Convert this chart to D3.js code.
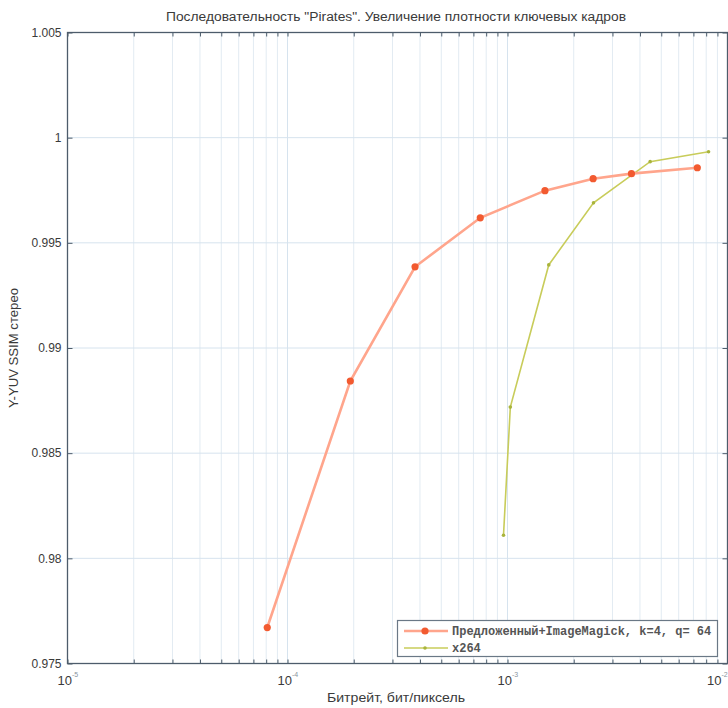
<!DOCTYPE html>
<html><head><meta charset="utf-8">
<script src="https://cdn.jsdelivr.net/npm/d3@7"></script>
<style>body{margin:0;background:#fff}svg{display:block}</style>
</head><body>
<script>
const titleText = 'Последовательность "Pirates". Увеличение плотности ключевых кадров';
const xLabel = 'Битрейт, бит/пиксель';
const yLabel = 'Y-YUV SSIM стерео';
const seriesNames = ['Предложенный+ImageMagick, k=4, q= 64', 'x264'];
const proposedX = [8.09e-5, 1.93e-4, 3.80e-4, 7.52e-4, 1.48e-3, 2.45e-3, 3.66e-3, 7.29e-3];
const proposedY = [0.97671, 0.98843, 0.99386, 0.99619, 0.99748, 0.99805, 0.99829, 0.99857];
const x264X = [9.59e-4, 1.03e-3, 1.54e-3, 2.46e-3, 4.45e-3, 8.20e-3];
const x264Y = [0.98110, 0.98719, 0.99395, 0.99690, 0.99886, 0.99933];
const yTicks = [0.975, 0.98, 0.985, 0.99, 0.995, 1, 1.005];
const yTickLabels = ['0.975', '0.98', '0.985', '0.99', '0.995', '1', '1.005'];
const xDecades = [-5, -4, -3, -2];

(function () {
const W = 728, H = 708;
const L = 67.5, R = 727.5, T = 32.5, B = 663.5;
const svg = d3.select('body').append('svg').attr('width', W).attr('height', H);
const x = d3.scaleLog().domain([1e-5, 1e-2]).range([L, R]);
const y = d3.scaleLinear().domain([0.975, 1.005]).range([B, T]);

const minor = [];
for (let e = -5; e < -2; e++) for (let m = 2; m <= 9; m++) minor.push(m * Math.pow(10, e));
const major = xDecades.map(e => Math.pow(10, e));

const g = svg.append('g');
g.selectAll('.gminor').data(minor).join('line')
  .attr('x1', d => x(d)).attr('x2', d => x(d)).attr('y1', T).attr('y2', B)
  .attr('stroke', '#e2ebf2').attr('stroke-width', 1);
g.selectAll('.gmajor').data(major).join('line')
  .attr('x1', d => x(d)).attr('x2', d => x(d)).attr('y1', T).attr('y2', B)
  .attr('stroke', '#d6e3ee').attr('stroke-width', 1);
g.selectAll('.gy').data(yTicks).join('line')
  .attr('x1', L).attr('x2', R).attr('y1', d => y(d)).attr('y2', d => y(d))
  .attr('stroke', '#d6e3ee').attr('stroke-width', 1);

const axCol = '#4d5c6b';
const axBottom = svg.append('g').attr('transform', `translate(0,${B})`)
  .call(d3.axisTop(x).tickValues(major.concat(minor)).tickSize(4).tickFormat(''));
const axTop = svg.append('g').attr('transform', `translate(0,${T})`)
  .call(d3.axisBottom(x).tickValues(major.concat(minor)).tickSize(4).tickFormat(''));
const axLeft = svg.append('g').attr('transform', `translate(${L},0)`)
  .call(d3.axisRight(y).tickValues(yTicks).tickSize(5).tickFormat(''));
const axRight = svg.append('g').attr('transform', `translate(${R},0)`)
  .call(d3.axisLeft(y).tickValues(yTicks).tickSize(5).tickFormat(''));
[axBottom, axTop, axLeft, axRight].forEach(a => {
  a.select('.domain').remove();
  a.selectAll('line').attr('stroke', axCol).attr('stroke-width', 1);
});
svg.append('rect').attr('x', L).attr('y', T).attr('width', R - L).attr('height', B - T)
  .attr('fill', 'none').attr('stroke', axCol).attr('stroke-width', 1.3);

const font = 'Liberation Sans, Arial, sans-serif';
svg.selectAll('.yl').data(yTicks).join('text')
  .attr('x', L - 6).attr('y', d => y(d)).attr('dy', '0.35em')
  .attr('text-anchor', 'end').attr('font-family', font).attr('font-size', 12)
  .attr('fill', '#3a3a3a').text((d, i) => yTickLabels[i]);
const xl = svg.selectAll('.xl').data(xDecades).join('text')
  .attr('x', d => Math.min(x(Math.pow(10, d)) - 10, W - 21)).attr('y', 685)
  .attr('font-family', font).attr('font-size', 13).attr('fill', '#3a3a3a');
xl.append('tspan').text('10');
xl.append('tspan').attr('dy', -8).attr('font-size', 7).attr('fill', '#8a95a0').text(d => String(d));

svg.append('text').attr('x', 396).attr('y', 21).attr('text-anchor', 'middle')
  .attr('font-family', font).attr('font-size', 12.5).attr('fill', '#3a3a3a')
  .attr('textLength', 460).attr('lengthAdjust', 'spacingAndGlyphs').text(titleText);
svg.append('text').attr('x', 396).attr('y', 702).attr('text-anchor', 'middle')
  .attr('font-family', font).attr('font-size', 12.5).attr('fill', '#3a3a3a')
  .attr('textLength', 138).attr('lengthAdjust', 'spacingAndGlyphs').text(xLabel);
svg.append('text').attr('transform', 'translate(18,348) rotate(-90)').attr('text-anchor', 'middle')
  .attr('font-family', font).attr('font-size', 12.5).attr('fill', '#3a3a3a')
  .attr('textLength', 120).attr('lengthAdjust', 'spacingAndGlyphs').text(yLabel);

const line = d3.line().x(d => x(d[0])).y(d => y(d[1]));
const p1 = proposedX.map((v, i) => [v, proposedY[i]]);
const p2 = x264X.map((v, i) => [v, x264Y[i]]);
const redLine = '#ffa58c', redMk = '#f25a30', grLine = '#c8cc5a', grMk = '#a9b43c';
svg.append('path').datum(p2).attr('d', line).attr('fill', 'none')
  .attr('stroke', grLine).attr('stroke-width', 1.6);
svg.selectAll('.m2').data(p2).join('circle').attr('cx', d => x(d[0])).attr('cy', d => y(d[1]))
  .attr('r', 1.8).attr('fill', grMk);
svg.append('path').datum(p1).attr('d', line).attr('fill', 'none')
  .attr('stroke', redLine).attr('stroke-width', 2.6);
svg.selectAll('.m1').data(p1).join('circle').attr('cx', d => x(d[0])).attr('cy', d => y(d[1]))
  .attr('r', 3.6).attr('fill', redMk);

const lg = svg.append('g');
lg.append('rect').attr('x', 397.5).attr('y', 620.5).attr('width', 320).attr('height', 36)
  .attr('fill', '#fff').attr('stroke', '#6a7886').attr('stroke-width', 1.2);
lg.append('line').attr('x1', 404).attr('x2', 448).attr('y1', 631).attr('y2', 631)
  .attr('stroke', redLine).attr('stroke-width', 2.6);
lg.append('circle').attr('cx', 425).attr('cy', 631).attr('r', 3.6).attr('fill', redMk);
lg.append('line').attr('x1', 404).attr('x2', 448).attr('y1', 648).attr('y2', 648)
  .attr('stroke', grLine).attr('stroke-width', 1.6);
lg.append('circle').attr('cx', 425).attr('cy', 648).attr('r', 1.8).attr('fill', grMk);
lg.selectAll('.lt').data(seriesNames).join('text')
  .attr('x', 452).attr('y', (d, i) => 631 + i * 17).attr('dy', '0.35em')
  .attr('font-family', 'Liberation Mono, DejaVu Sans Mono, monospace').attr('font-size', 12)
  .attr('font-weight', 'bold').attr('fill', '#555').text(d => d);
})();
</script>
</body></html>
